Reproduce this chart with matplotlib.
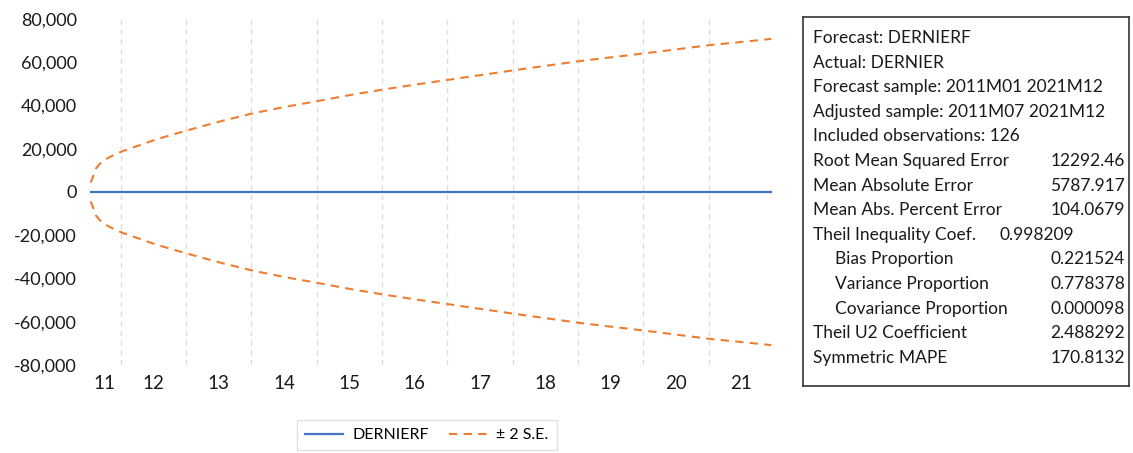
import matplotlib
matplotlib.use("Agg")
import matplotlib.pyplot as plt
import numpy as np

plt.rcParams['font.family'] = ['Lato', 'DejaVu Sans']

# forecast sample 2011M07..2021M12, h = months after 2011M07
band_h = [0, 1, 2, 3, 4, 5, 6, 12, 18, 24, 30, 36, 42, 48, 54, 60, 66, 72,
          78, 84, 90, 96, 102, 108, 114, 120, 125]
# two standard errors around the forecast
two_se = [4300, 11000, 14000, 15500, 16800, 18000, 19000, 24300, 28700, 32800,
          36500, 39500, 42200, 45000, 47500, 49800, 52000, 54200, 56400, 58500,
          60600, 62400, 64200, 66100, 68000, 69500, 70800]
dernierf = [0, 0, 0, 0, 0, 0, 0, 0, 0, 0, 0, 0, 0, 0, 0, 0, 0, 0, 0, 0, 0, 0,
            0, 0, 0, 0, 0]
year_labels = ['11', '12', '13', '14', '15', '16', '17', '18', '19', '20', '21']

# (label, value, indent, value alignment)
stats = [
    ("Forecast: DERNIERF", "", 0, 'r'),
    ("Actual: DERNIER", "", 0, 'r'),
    ("Forecast sample: 2011M01 2021M12", "", 0, 'r'),
    ("Adjusted sample: 2011M07 2021M12", "", 0, 'r'),
    ("Included observations: 126", "", 0, 'r'),
    ("Root Mean Squared Error", "12292.46", 0, 'r'),
    ("Mean Absolute Error", "5787.917", 0, 'r'),
    ("Mean Abs. Percent Error", "104.0679", 0, 'r'),
    ("Theil Inequality Coef.", "0.998209", 0, 'l'),
    ("Bias Proportion", "0.221524", 1, 'r'),
    ("Variance Proportion", "0.778378", 1, 'r'),
    ("Covariance Proportion", "0.000098", 1, 'r'),
    ("Theil U2 Coefficient", "2.488292", 0, 'r'),
    ("Symmetric MAPE", "170.8132", 0, 'r'),
]

BLUE = '#4472c4'
ORANGE = '#ed7d31'

W, H = 1133, 453
fig = plt.figure(figsize=(W / 100, H / 100), dpi=100)
ax = fig.add_axes([88 / W, 1 - 365 / H, (774 - 88) / W, (365 - 19) / H])

x = 2011.5 + (np.array(band_h) + 0.5) / 12
f = np.array(dernierf, dtype=float)
se2 = np.array(two_se, dtype=float)

ax.plot(x, f, color=BLUE, lw=1.6, label='DERNIERF', zorder=3)
ax.plot(x, f + se2, color=ORANGE, lw=1.5, ls=(0, (4, 3)), label='± 2 S.E.', zorder=3)
ax.plot(x, f - se2, color=ORANGE, lw=1.5, ls=(0, (4, 3)), zorder=3)

ax.set_xlim(2011.5, 2022.0)
ax.set_ylim(-80000, 80000)
for yr in range(2012, 2022):
    ax.axvline(yr, color='#dedede', lw=1, ls=(0, (4, 3)), zorder=1)

# year labels centred on the visible part of each year
centers = [(max(2011 + i, 2011.5) + min(2012 + i, 2022.0)) / 2 for i in range(len(year_labels))]
ax.set_xticks(centers)
ax.set_xticklabels(year_labels, fontsize=13.5, color='#1a1a1a')
ax.set_yticks(np.arange(-80000, 80001, 20000))
ax.set_yticklabels([f"{v:,.0f}" for v in np.arange(-80000, 80001, 20000)],
                   fontsize=13, color='#1a1a1a')
ax.tick_params(length=0, axis='y', pad=8)
ax.tick_params(length=0, axis='x', pad=7)
for s in ax.spines.values():
    s.set_visible(False)

leg = fig.legend(loc='upper left', bbox_to_anchor=(297 / W, 1 - 420 / H), ncol=2,
                 fontsize=11.5, frameon=True, fancybox=False, edgecolor='#d9d9d9',
                 handlelength=2.4, handletextpad=0.6, columnspacing=1.2,
                 borderpad=0.5, borderaxespad=0)
leg.get_frame().set_linewidth(1)

# statistics box
bx = fig.add_axes([803 / W, 1 - 386 / H, (1129 - 803) / W, (386 - 17) / H])
bx.set_xlim(803, 1129)
bx.set_ylim(386, 17)
bx.set_xticks([])
bx.set_yticks([])
for s in bx.spines.values():
    s.set_color('#333333')
    s.set_linewidth(1.2)
for i, (name, val, indent, align) in enumerate(stats):
    yy = 38 + i * 24.6
    bx.text(813 + 22 * indent, yy, name, fontsize=12.5, va='center', ha='left', color='#1a1a1a')
    if val and align == 'l':
        bx.text(1000, yy, val, fontsize=12.5, va='center', ha='left', color='#1a1a1a')
    elif val:
        bx.text(1125, yy, val, fontsize=12.5, va='center', ha='right', color='#1a1a1a')

fig.savefig('out.png', dpi=100)
